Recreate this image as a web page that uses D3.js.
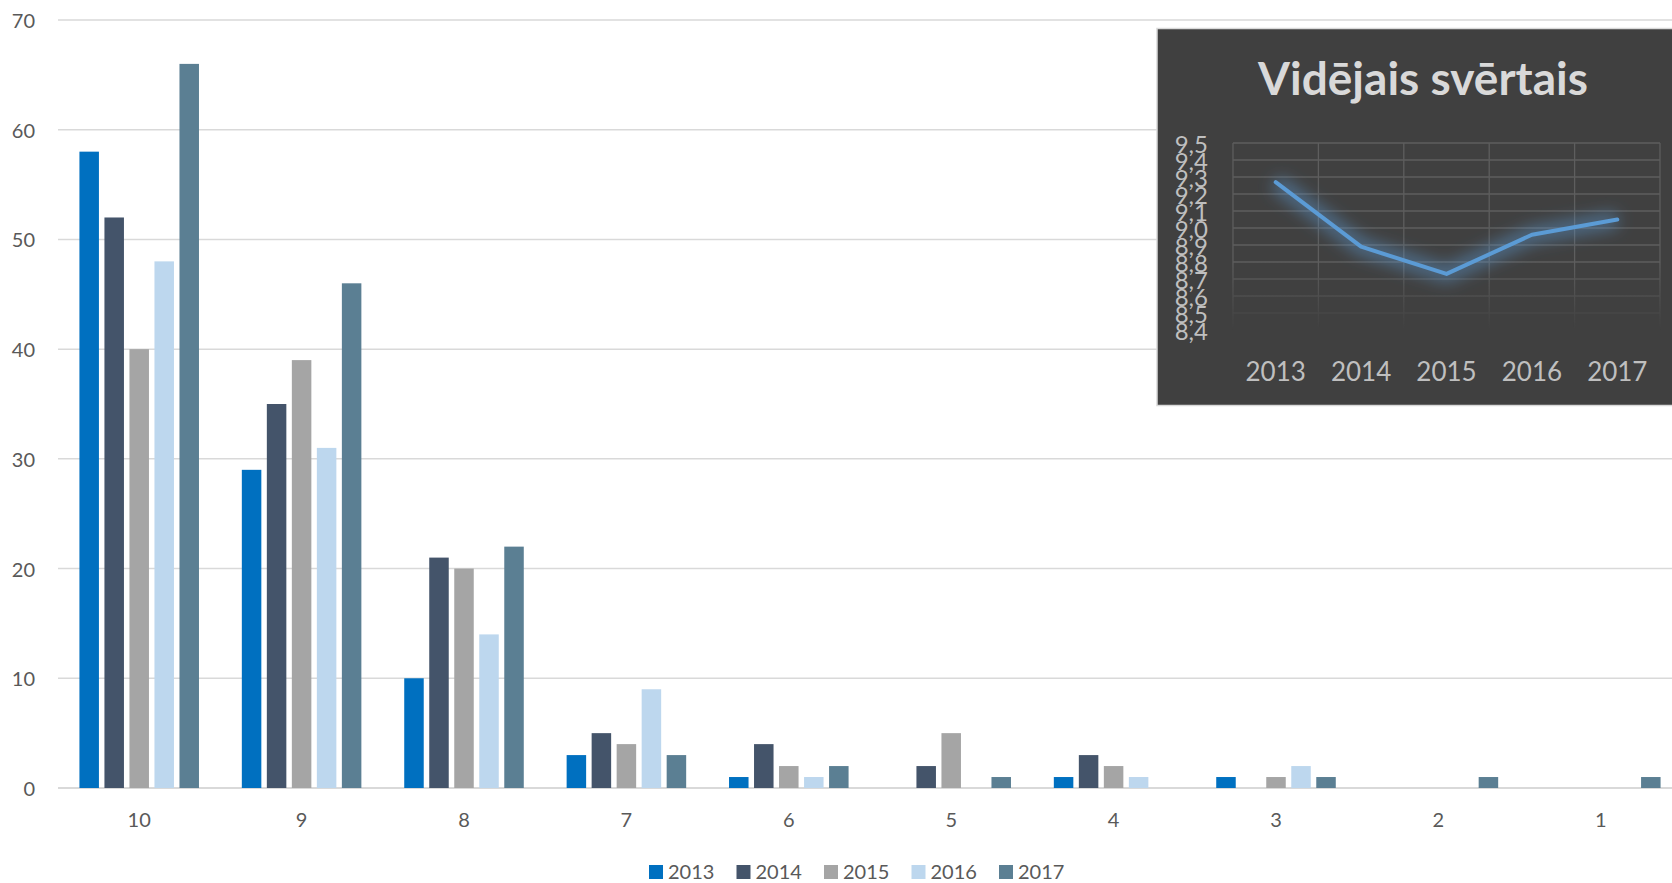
<!DOCTYPE html>
<html><head><meta charset="utf-8">
<script src="https://cdn.jsdelivr.net/npm/d3@7"></script>
<style>body{margin:0;background:#fff;overflow:hidden;} svg{display:block;font-family:Lato,"Open Sans",sans-serif;}</style>
</head><body><svg id="c" width="1672" height="883"></svg>
<script>
// ---- data ----
const categories = ["10","9","8","7","6","5","4","3","2","1"];
const years = ["2013","2014","2015","2016","2017"];
const v2013 = [58,29,10,3,1,0,1,1,0,0];
const v2014 = [52,35,21,5,4,2,3,0,0,0];
const v2015 = [40,39,20,4,2,5,2,1,0,0];
const v2016 = [48,31,14,9,1,0,1,2,0,0];
const v2017 = [66,46,22,3,2,1,0,1,1,1];
const yTicks = [0,10,20,30,40,50,60,70];
const colors = ["#0070c0","#44546a","#a5a5a5","#bdd7ee","#5b7f93"];
const insetTitle = "Vidējais svērtais";
const avgYears = ["2013","2014","2015","2016","2017"];
const avgValues = [9.27,8.89,8.73,8.96,9.05];
const insetTicks = [8.4,8.5,8.6,8.7,8.8,8.9,9.0,9.1,9.2,9.3,9.4,9.5];

const seriesValues = [v2013,v2014,v2015,v2016,v2017];
const svg = d3.select("#c");

// ---- main chart ----
const y = d3.scaleLinear().domain([0,70]).range([788,20]);
const x0 = d3.scaleBand().domain(categories).range([58,1682]).paddingInner(0.23).paddingOuter(0.115);
const x1 = d3.scaleBand().domain(years).range([0,x0.bandwidth()]).paddingInner(0.22).paddingOuter(0.11);

svg.append("g").selectAll("line").data(yTicks).join("line")
  .attr("x1",58).attr("x2",1672).attr("y1",d=>y(d)).attr("y2",d=>y(d))
  .attr("stroke","#d9d9d9").attr("stroke-width",d=>d===0?2:1.5);

svg.append("g").selectAll("text").data(yTicks).join("text")
  .attr("x",35).attr("y",d=>y(d)).attr("text-anchor","end").attr("dominant-baseline","central")
  .attr("font-size",20).attr("fill","#595959").text(d=>d);

const barData = [];
categories.forEach((c,i)=>years.forEach((yr,j)=>{
  if (seriesValues[j][i] > 0) barData.push({c, yr, v: seriesValues[j][i], j});
}));
svg.append("g").selectAll("rect").data(barData).join("rect")
  .attr("x",d=>x0(d.c)+x1(d.yr)).attr("width",x1.bandwidth())
  .attr("y",d=>y(d.v)).attr("height",d=>y(0)-y(d.v))
  .attr("fill",d=>colors[d.j]);

svg.append("g").selectAll("text").data(categories).join("text")
  .attr("x",d=>x0(d)+x0.bandwidth()/2).attr("y",819).attr("text-anchor","middle")
  .attr("dominant-baseline","central").attr("font-size",20).attr("fill","#595959").text(d=>d);

// legend
const lg = svg.append("g");
years.forEach((yr,j)=>{
  const lx = 649 + j*87.5;
  lg.append("rect").attr("x",lx).attr("y",865).attr("width",14).attr("height",14).attr("fill",colors[j]);
  lg.append("text").attr("x",lx+19).attr("y",871).attr("dominant-baseline","central")
    .attr("font-size",20).attr("fill","#595959").text(yr);
});

// ---- inset chart ----
const defs = svg.append("defs");
const grad = defs.append("linearGradient").attr("id","fadeG").attr("gradientUnits","userSpaceOnUse")
  .attr("x1",0).attr("x2",0).attr("y1",262).attr("y2",330);
grad.append("stop").attr("offset",0).attr("stop-color","#fff");
grad.append("stop").attr("offset",1).attr("stop-color","#000");
defs.append("mask").attr("id","fadeM").attr("maskUnits","userSpaceOnUse")
  .attr("x",1150).attr("y",100).attr("width",600).attr("height",300)
  .append("rect").attr("x",1150).attr("y",100).attr("width",600).attr("height",300).attr("fill","url(#fadeG)");
const glow = defs.append("filter").attr("id","glow").attr("x","-20%").attr("y","-60%").attr("width","140%").attr("height","220%");
glow.append("feGaussianBlur").attr("stdDeviation",8);

const ins = svg.append("g");
ins.append("rect").attr("x",1157).attr("y",28.5).attr("width",530).attr("height",377)
  .attr("fill","#404040").attr("stroke","#d9d9d9").attr("stroke-width",1.5);

const iy = d3.scaleLinear().domain([8.4,9.5]).range([330,143]);
const ix = d3.scaleBand().domain(avgYears).range([1233,1660]);

const gridG = ins.append("g").attr("mask","url(#fadeM)");
gridG.selectAll("line.h").data(insetTicks).join("line").attr("class","h")
  .attr("x1",1233).attr("x2",1660).attr("y1",d=>iy(d)).attr("y2",d=>iy(d))
  .attr("stroke","#5e5e5e").attr("stroke-width",1.3);
const vEdges = avgYears.map(d=>ix(d)).concat([ix.range()[1]]);
gridG.selectAll("line.v").data(vEdges).join("line").attr("class","v")
  .attr("x1",d=>d).attr("x2",d=>d).attr("y1",iy(9.5)).attr("y2",iy(8.4))
  .attr("stroke","#5e5e5e").attr("stroke-width",1.3);

ins.append("g").selectAll("text").data(insetTicks).join("text")
  .attr("x",1208).attr("y",d=>iy(d)).attr("text-anchor","end").attr("dominant-baseline","central")
  .attr("font-size",24).attr("fill","#bfbfbf").text(d=>d.toFixed(1).replace(".",","));

ins.append("g").selectAll("text").data(avgYears).join("text")
  .attr("x",d=>ix(d)+ix.bandwidth()/2).attr("y",381).attr("text-anchor","middle")
  .attr("font-size",26).attr("fill","#bfbfbf").text(d=>d);

const lineGen = d3.line().x((d,i)=>ix(avgYears[i])+ix.bandwidth()/2).y(d=>iy(d));
ins.append("path").attr("d",lineGen(avgValues)).attr("fill","none")
  .attr("stroke","#5b9bd5").attr("stroke-width",16).attr("stroke-opacity",0.5)
  .attr("stroke-linejoin","round").attr("filter","url(#glow)");
ins.append("path").attr("d",lineGen(avgValues)).attr("fill","none")
  .attr("stroke","#5b9bd5").attr("stroke-width",4).attr("stroke-linejoin","round").attr("stroke-linecap","round");

const title = ins.append("text").attr("x",1423).attr("y",95).attr("text-anchor","middle")
  .attr("font-size",40).attr("font-weight","bold").attr("fill","#d9d9d9").text(insetTitle);
const tl = title.node().getComputedTextLength();
title.attr("font-size", 40*330/tl);
</script></body></html>
